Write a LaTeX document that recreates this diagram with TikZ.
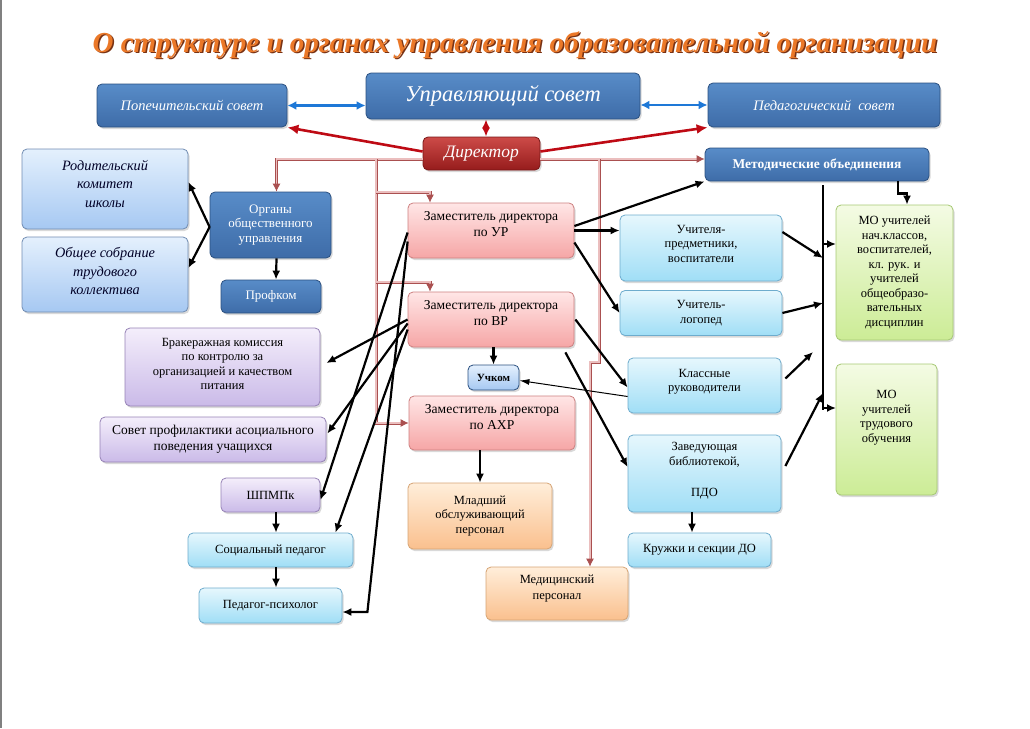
\documentclass[tikz,border=0pt]{standalone}
\usepackage{fontspec}
\setmainfont{Liberation Serif}
\usetikzlibrary{arrows.meta,shadows}
\definecolor{bltop}{RGB}{88,140,200}
\definecolor{blbot}{RGB}{62,108,168}
\definecolor{bldraw}{RGB}{42,80,128}
\definecolor{rdtop}{RGB}{205,75,72}
\definecolor{rdbot}{RGB}{150,28,28}
\definecolor{lbtop}{RGB}{228,240,253}
\definecolor{lbbot}{RGB}{166,200,242}
\definecolor{lbdraw}{RGB}{112,140,178}
\definecolor{pktop}{RGB}{255,230,230}
\definecolor{pkbot}{RGB}{246,166,166}
\definecolor{pkdraw}{RGB}{205,128,128}
\definecolor{vitop}{RGB}{244,238,251}
\definecolor{vibot}{RGB}{202,186,232}
\definecolor{vidraw}{RGB}{150,130,182}
\definecolor{cytop}{RGB}{230,247,253}
\definecolor{cybot}{RGB}{160,222,246}
\definecolor{cydraw}{RGB}{110,172,205}
\definecolor{ortop}{RGB}{255,238,218}
\definecolor{orbot}{RGB}{250,192,142}
\definecolor{ordraw}{RGB}{214,164,116}
\definecolor{grtop}{RGB}{244,251,228}
\definecolor{grbot}{RGB}{204,236,150}
\definecolor{grdraw}{RGB}{166,200,116}
\definecolor{brn}{RGB}{170,80,80}
\definecolor{brnin}{RGB}{235,190,190}
\definecolor{dred}{RGB}{190,10,20}
\definecolor{arblue}{RGB}{30,120,215}
\definecolor{ttl}{RGB}{235,120,40}
\definecolor{ttlsh}{RGB}{120,50,20}

\begin{document}
\begin{tikzpicture}[
  every node/.style={inner sep=2pt, align=center},
  box/.style={rounded corners=5pt, line width=0.8pt, drop shadow={opacity=0.3, shadow xshift=1.5pt, shadow yshift=-2pt}, font=\fontsize{12.5}{14.5}\selectfont},
  navy/.style={box, draw=bldraw, top color=bltop, bottom color=blbot, text=white},
  chief/.style={box, draw=rdbot!80!black, top color=rdtop, bottom color=rdbot, text=white},
  lblue/.style={box, draw=lbdraw, top color=lbtop, bottom color=lbbot, text=black!85!blue, font=\fontsize{14.3}{18.5}\selectfont\itshape},
  pink/.style={box, draw=pkdraw, top color=pktop, bottom color=pkbot, font=\fontsize{13.6}{16}\selectfont},
  viol/.style={box, draw=vidraw, top color=vitop, bottom color=vibot},
  cyan/.style={box, draw=cydraw, top color=cytop, bottom color=cybot},
  oran/.style={box, draw=ordraw, top color=ortop, bottom color=orbot},
  gren/.style={box, draw=grdraw, top color=grtop, bottom color=grbot},
  brline/.style={draw=brn, line width=0.9pt, double=brnin, double distance=1.2pt},
  brarr/.style={brline, -{Latex[length=8pt, width=8pt]}},
  redarr/.style={draw=dred, line width=2.6pt, -{Latex[length=11pt, width=10pt]}},
  bluarr/.style={draw=arblue, line width=2.2pt, {Latex[length=9pt, width=9pt]}-{Latex[length=9pt, width=9pt]}},
  blk/.style={draw=black, line width=2.2pt, -{Latex[length=9pt, width=8pt]}},
]
\useasboundingbox (0pt,0pt) rectangle (1030pt,-728pt);
\draw[gray, line width=1.5pt] (1pt,0pt) -- (1pt,-728pt);

% title
\node (ttlshadow) [text=ttlsh, font=\fontsize{29}{32}\selectfont\bfseries\itshape] at (516.5pt,-46.5pt) {О структуре и органах управления образовательной организации};
\node (title) [text=ttl, font=\fontsize{29}{32}\selectfont\bfseries\itshape] at (515pt,-45pt) {О структуре и органах управления образовательной организации};

% top row
\node (pop) [navy, minimum width=190pt, minimum height=43pt, font=\fontsize{14.5}{16}\selectfont\itshape] at (192pt,-105.5pt) {Попечительский совет};
\node (upr) [navy, minimum width=274pt, minimum height=46pt, font=\fontsize{22.5}{25}\selectfont\itshape] at (503pt,-96pt) {Управляющий совет};
\node (ped) [navy, minimum width=232pt, minimum height=44pt, font=\fontsize{14.5}{16}\selectfont\itshape] at (824pt,-105pt) {Педагогический \ совет};
\node (dir) [chief, minimum width=117pt, minimum height=33pt, font=\fontsize{17.5}{20}\selectfont\itshape] at (481.5pt,-153.5pt) {Директор};
\node (met) [navy, minimum width=224pt, minimum height=33pt, font=\fontsize{13.5}{15}\selectfont\bfseries] at (817pt,-164.5pt) {Методические объединения};

% left column
\node (rod) [lblue, minimum width=166pt, minimum height=80pt] at (105pt,-189pt) {Родительский\\комитет\\школы\\[-8pt]};
\node (obs) [lblue, minimum width=166pt, minimum height=75pt] at (105pt,-274.5pt) {Общее собрание\\трудового\\коллектива\\[-12pt]};
\node (org) [navy, minimum width=121pt, minimum height=66pt, font=\fontsize{13}{14.5}\selectfont] at (270.5pt,-225pt) {Органы\\общественного\\управления};
\node (prof) [navy, minimum width=100pt, minimum height=33pt, font=\fontsize{13}{15}\selectfont] at (271pt,-296.5pt) {Профком};
\node (brak) [viol, minimum width=195pt, minimum height=78pt] at (222.5pt,-367pt) {Бракеражная комиссия\\по контролю за\\организацией и качеством\\питания\\[-8pt]};
\node (sov) [viol, minimum width=226pt, minimum height=45pt, font=\fontsize{13.5}{15.5}\selectfont] at (213pt,-439.5pt) {Совет профилактики асоциального\\поведения учащихся};
\node (shp) [viol, minimum width=99pt, minimum height=34pt] at (270.5pt,-495pt) {ШПМПк};
\node (soc) [cyan, minimum width=165pt, minimum height=34pt] at (270.5pt,-550pt) {Социальный педагог};
\node (psy) [cyan, minimum width=143pt, minimum height=35pt] at (270.5pt,-605.5pt) {Педагог-психолог};

% centre column
\node (zur) [pink, minimum width=166pt, minimum height=55pt] at (491pt,-230.5pt) {Заместитель директора\\по УР\\[-3pt]};
\node (zvr) [pink, minimum width=166pt, minimum height=55pt] at (491pt,-319.5pt) {Заместитель директора\\по ВР\\[-3pt]};
\node (uch) [box, draw=bldraw, top color=lbtop, bottom color=lbbot, minimum width=51pt, minimum height=25pt, font=\fontsize{11}{13}\selectfont\bfseries] at (493.5pt,-377.5pt) {Учком};
\node (zahr) [pink, minimum width=166pt, minimum height=54pt] at (492pt,-423pt) {Заместитель директора\\по АХР\\[-3pt]};
\node (mlad) [oran, minimum width=144pt, minimum height=66pt] at (480pt,-516pt) {Младший\\обслуживающий\\персонал};
\node (med) [oran, minimum width=142pt, minimum height=53pt] at (557pt,-593.5pt) {Медицинский\\[2pt]персонал\\[-2pt]};

% right column
\node (upd) [cyan, minimum width=162pt, minimum height=66pt] at (701pt,-248pt) {Учителя-\\предметники,\\воспитатели\\[-6pt]};
\node (log) [cyan, minimum width=162pt, minimum height=45pt] at (701pt,-313pt) {Учитель-\\логопед};
\node (kl) [cyan, minimum width=153pt, minimum height=55pt] at (704.5pt,-385.5pt) {Классные\\руководители\\[-4pt]};
\node (zav) [cyan, minimum width=153pt, minimum height=77pt] at (704.5pt,-473.5pt) {Заведующая\\[1pt]библиотекой,\\[16pt]ПДО\\[-6pt]};
\node (kr) [cyan, minimum width=143pt, minimum height=34pt] at (699.5pt,-550pt) {Кружки и секции ДО};
\node (mon) [gren, minimum width=117pt, minimum height=135pt] at (894.5pt,-272.5pt) {МО учителей\\нач.классов,\\воспитателей,\\кл. рук. и\\учителей\\общеобразо-\\вательных\\дисциплин};
\node (mot) [gren, minimum width=101pt, minimum height=131pt] at (886.5pt,-429.5pt) {МО\\учителей\\трудового\\обучения\\[12pt]};

\coordinate (jl) at (376pt,-159pt);
\coordinate (jr) at (599pt,-159pt);
\coordinate (vt) at (823pt,-185pt);
\coordinate (vb) at (823pt,-410pt);

% director links
\draw[bluarr] (pop.east) -- (pop.east -| upr.west);
\draw[bluarr] (upr.east |- ped.west) -- (ped.west);
\draw[redarr] ([yshift=2pt]dir.west) -- (pop.south east);
\draw[redarr] ([yshift=2pt]dir.east) -- (ped.south west);
\draw[draw=dred, line width=2pt, {Latex[length=9pt, width=8pt]}-{Latex[length=9pt, width=8pt]}] ([xshift=-17pt]upr.south) -- ([xshift=4.5pt]dir.north);

% subordination lines
\draw[brarr] ([yshift=-5.5pt]dir.west) -| ([xshift=6pt]org.north);
\draw[brarr] ([yshift=-5.5pt]dir.east) -- ([yshift=5.5pt]met.west);
\draw[brarr] (jl) |- (zahr.west);
\draw[brarr] ([yshift=-33pt]jl) -| ([xshift=-61pt]zur.north);
\draw[brarr] ([yshift=-123pt]jl) -| ([xshift=-61pt]zvr.north);
\draw[brarr] (jr) -- ++(0pt,-203pt) -- ++(-9pt,0pt) -- ([xshift=33pt]med.north);

% left side
\draw[blk] ([yshift=-2pt]org.west) -- ([yshift=7pt]rod.east);
\draw[blk] ([yshift=-2pt]org.west) -- ([yshift=6.5pt]obs.east);
\draw[blk] ([xshift=6pt]org.south) -- ([xshift=5pt]prof.north);
\draw[blk] ([yshift=-2pt]zur.west) -- ([yshift=-5pt]shp.east);
\draw[blk] ([yshift=-11pt]zur.west) -- ([xshift=25pt, yshift=-6.5pt]psy.east) -- ([yshift=-6.5pt]psy.east);
\draw[blk] (zvr.west) -- ([xshift=6pt, yshift=4pt]brak.east);
\draw[blk] ([yshift=-4pt]zvr.west) -- ([xshift=1pt, yshift=6pt]sov.east);
\draw[blk] ([yshift=-10pt]zvr.west) -- ([xshift=-18pt]soc.north east);
\draw[blk] ([xshift=5.5pt]shp.south) -- ([xshift=5.5pt]soc.north);
\draw[blk] ([xshift=5.5pt]soc.south) -- ([xshift=5.5pt]psy.north);

% centre
\draw[blk] (uch.north |- zvr.south) -- (uch.north);
\draw[blk] (mlad.north |- zahr.south) -- (mlad.north);
\draw[draw=black, line width=1pt, -{Latex[length=10pt, width=6pt]}] ([yshift=-11pt]kl.west) -- ([yshift=-3pt]uch.east);

% right side
\draw[blk] ([yshift=4.5pt]zur.east) -- (met.south west);
\draw[blk] (zur.east) -- (zur.east -| upd.west);
\draw[blk] ([yshift=-12pt]zur.east) -- (log.west);
\draw[blk] ([xshift=1pt]zvr.east) -- ([yshift=-2pt]kl.west);
\draw[blk] ([xshift=-9pt, yshift=-5pt]zvr.south east) -- ([yshift=6.5pt]zav.west);
\draw[blk] ([xshift=-12.5pt]zav.south) -- ([xshift=-7.5pt]kr.north);
\draw[line width=2.4pt] (vt) -- (vb);
\draw[blk] ([yshift=16pt]upd.east) -- ([yshift=-73pt]vt);
\draw[blk] (log.east) -- ([yshift=-118pt]vt);
\draw[blk] ([xshift=4pt, yshift=7pt]kl.east) -- ([xshift=-10pt, yshift=-167pt]vt);
\draw[blk] ([xshift=4pt, yshift=7.5pt]zav.east) -- ([yshift=-208pt]vt);
\draw[blk] ([yshift=-59pt]vt) -- ++(13pt,0pt);
\draw[blk] ([yshift=-223pt]vt) -- ++(13pt,0pt);
\draw[blk] ([xshift=81pt]met.south) -- ++(0pt,-12pt) -- ++(9pt,0pt) -- ([xshift=12.5pt]mon.north);
\end{tikzpicture}
\end{document}
